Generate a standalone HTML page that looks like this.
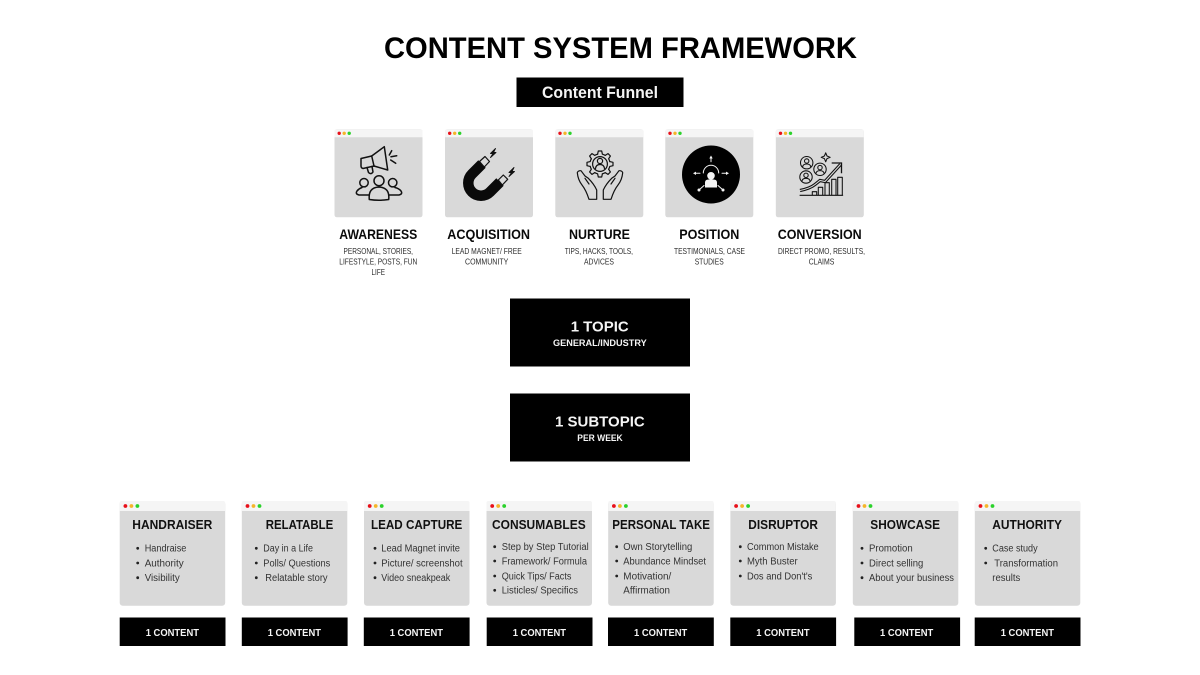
<!DOCTYPE html>
<html lang="en">
<head>
<meta charset="utf-8">
<title>Content System Framework</title>
<style>
html,body{margin:0;padding:0;background:#fff;width:1200px;height:675px;overflow:hidden}
svg{display:block;filter:blur(.3px)}
text{font-family:"Liberation Sans",sans-serif;white-space:pre}
.h{font-weight:700;font-size:14px;fill:#0a0a0a}
.s{font-size:8.5px;fill:#2b2b2b}
.c{font-weight:700;font-size:12.8px;fill:#111}
.b{font-size:10px;fill:#333}
.w{font-weight:700;fill:#f5f5f5}
.i{fill:none;stroke:#111;stroke-width:1.5;stroke-linecap:round;stroke-linejoin:round}
</style>
</head>
<body>
<svg xmlns="http://www.w3.org/2000/svg" width="1200" height="675" viewBox="0 0 1200 675">
<defs>
<g id="t">
<rect x="0" y="0" width="88" height="88" rx="2.5" fill="#d9d9d9"/>
<path d="M0,8V2a2,2 0 0 1 2,-2H86a2,2 0 0 1 2,2V8Z" fill="#f5f5f5"/>
<circle cx="4.7" cy="4" r="1.7" fill="#e8101a"/><circle cx="9.7" cy="4" r="1.7" fill="#f5b52a"/><circle cx="14.7" cy="4" r="1.7" fill="#2bd22b"/>
</g>
<g id="m">
<rect x="0" y="0" width="105.5" height="104.7" rx="3" fill="#d9d9d9"/>
<path d="M0,10V2a2,2 0 0 1 2,-2H103.5a2,2 0 0 1 2,2V10Z" fill="#f5f5f5"/>
<circle cx="5.7" cy="5" r="1.9" fill="#e8101a"/><circle cx="11.7" cy="5" r="1.9" fill="#f5b52a"/><circle cx="17.7" cy="5" r="1.9" fill="#2bd22b"/>
</g>
<path id="tooth" d="M-2.4,-9.8L-1.7,-13H1.7L2.4,-9.8A10,10 0 0 1 5.23,-8.63"/>
</defs>

<text x="384" y="58" font-size="30" font-weight="700" fill="#000" textLength="473" lengthAdjust="spacingAndGlyphs">CONTENT SYSTEM FRAMEWORK</text>
<rect x="516.5" y="77.5" width="167" height="29.5" fill="#000"/>
<text x="542" y="98" font-size="16.5" class="w" textLength="116" lengthAdjust="spacingAndGlyphs">Content Funnel</text>

<use href="#t" x="334.5" y="129.3"/><use href="#t" x="445" y="129.3"/><use href="#t" x="555.3" y="129.3"/><use href="#t" x="665.3" y="129.3"/><use href="#t" x="775.8" y="129.3"/>

<!-- megaphone + people -->
<g class="i">
<path d="M371.7,156L384.3,146.7L387.7,170L374,166"/>
<path d="M361,158.5L371.7,156L374,166L363,168.5Q361,168 361,166Z"/>
<path d="M367,167.5L368.5,172.5Q371,175 373,172L372,166.5"/>
<path d="M391.7,150.7L389.3,155M391,156.7L396.7,155.7M390.7,160L395.7,163.3"/>
<circle cx="379" cy="180.7" r="5"/><circle cx="364" cy="182.7" r="4.2"/><circle cx="392.7" cy="182.7" r="4.2"/>
<path d="M369.3,199.5Q368,187.5 379,187Q390,187.5 388.7,199.5Q379,201 369.3,199.5Z"/>
<path d="M369,195H359Q355,194 357,191Q359,188.5 362,187.5"/><path d="M389,195H399Q403,194 401,191Q399,188.5 395,187.5"/>
</g>
<!-- magnet -->
<path d="M482,164L472,174A12.7,12.7 0 0 0 490,192L500,182" fill="none" stroke="#0a0a0a" stroke-width="10.5"/>
<path d="M479.5,161.5L485,156.5L489.5,161.5L484.3,167ZM498.3,180L503.3,175L507.7,179.3L502.3,185Z" fill="#d9d9d9" stroke="#111" stroke-width="1.2" stroke-linejoin="round"/>
<path d="M495.5,148.5L490.5,153.5H493L490.5,157.5L496,152.5H493.5ZM514,167.5L509,172.5H511.5L509,176.5L514.5,171.5H512Z" fill="#111" stroke="#111" stroke-width=".9" stroke-linejoin="round"/>
<!-- nurture -->
<g class="i" style="stroke-width:1.2">
<g transform="translate(600,164)">
<use href="#tooth"/><use href="#tooth" transform="rotate(45)"/><use href="#tooth" transform="rotate(90)"/><use href="#tooth" transform="rotate(135)"/><use href="#tooth" transform="rotate(180)"/><use href="#tooth" transform="rotate(225)"/><use href="#tooth" transform="rotate(270)"/><use href="#tooth" transform="rotate(315)"/>
</g>
<circle cx="600" cy="164" r="7.4"/>
<circle cx="600" cy="161" r="2.6"/><path d="M595.5,168.5Q596,164.5 600,164.5Q604,164.5 604.5,168.5"/>
<path d="M577.3,172.7Q578,180 582,185Q586,190 589,199.3H596.7V190Q594,184 588.3,178.3L585,176L581,170.7Q578,170.5 577.3,172.7Z"/>
<path d="M585,178.3L589,184"/>
<path d="M622.7,172.7Q622,180 618,185Q614,190 611,199.3H603.3V190Q606,184 611.7,178.3L615,176L619,170.7Q622,170.5 622.7,172.7Z"/>
<path d="M615,178.3L611,184"/>
</g>
<!-- position -->
<circle cx="711" cy="174.5" r="29" fill="#000"/>
<g fill="#f4f4f4">
<circle cx="711" cy="175.8" r="3.8"/>
<path d="M705,187.5V182.5Q705,179.5 708.5,179.5H713.5Q717,179.5 717,182.5V187.5Z"/>
<circle cx="699" cy="190" r="1.5"/><circle cx="723" cy="190" r="1.5"/>
<path d="M711,155.5L709.3,158.5H712.7ZM693,173.3L696,171.6V175ZM729,173.3L726,171.6V175Z"/>
</g>
<g fill="none" stroke="#f4f4f4" stroke-width="1" stroke-linecap="round">
<path d="M703.3,173A7.7,7.7 0 0 1 718.7,173"/>
<path d="M711,158V161.7M696,173.3H700M722,173.3H726M704,185.5L699,190M718,185.5L723,190"/>
</g>
<!-- conversion -->
<g class="i" style="stroke-width:1.05">
<circle cx="806.7" cy="162.7" r="6.2"/><circle cx="806.7" cy="161" r="2.2"/><path d="M802.6,167Q803,164 806.7,164Q810.4,164 810.8,167"/>
<circle cx="820" cy="169.3" r="6.2"/><circle cx="820" cy="167.6" r="2.2"/><path d="M815.9,173.6Q816.3,170.6 820,170.6Q823.7,170.6 824.1,173.6"/>
<circle cx="806" cy="177" r="6.2"/><circle cx="806" cy="175.3" r="2.2"/><path d="M801.9,181.3Q802.3,178.3 806,178.3Q809.7,178.3 810.1,181.3"/>
<path d="M800,195.3H842.7"/>
<path d="M812.3,195V191.7H816.7V195M818.3,195V187.3H822.7V195M825,195V182.7H829.3V195M831.7,195V179.3H836V195M837.7,195V177.3H842.3V195"/>
<path d="M825.7,152.8L827,156L830.2,157.3L827,158.6L825.7,161.8L824.4,158.6L821.2,157.3L824.4,156Z"/>
</g>
<path d="M800,190.5Q810,188.5 815,184.5L820,180.5L825,181.5L840.5,164.5" fill="none" stroke="#111" stroke-width="3.2"/>
<path d="M800,190.5Q810,188.5 815,184.5L820,180.5L825,181.5L840.5,164.5" fill="none" stroke="#d9d9d9" stroke-width="1.1"/>
<path d="M831.7,163H841.5V173.3" fill="none" stroke="#111" stroke-width="1.3"/>

<text class="h" x="339.3" y="239" textLength="78" lengthAdjust="spacingAndGlyphs">AWARENESS</text>
<text class="h" x="447.3" y="239" textLength="82.7" lengthAdjust="spacingAndGlyphs">ACQUISITION</text>
<text class="h" x="569" y="239" textLength="61" lengthAdjust="spacingAndGlyphs">NURTURE</text>
<text class="h" x="679.3" y="239" textLength="60" lengthAdjust="spacingAndGlyphs">POSITION</text>
<text class="h" x="777.7" y="239" textLength="84" lengthAdjust="spacingAndGlyphs">CONVERSION</text>

<text class="s" x="343.5" y="254" textLength="69.5" lengthAdjust="spacingAndGlyphs">PERSONAL, STORIES,</text>
<text class="s" x="339.3" y="264.5" textLength="78" lengthAdjust="spacingAndGlyphs">LIFESTYLE, POSTS, FUN</text>
<text class="s" x="371.5" y="275" textLength="13.5" lengthAdjust="spacingAndGlyphs">LIFE</text>
<text class="s" x="451.7" y="254" textLength="70" lengthAdjust="spacingAndGlyphs">LEAD MAGNET/ FREE</text>
<text class="s" x="465" y="264.5" textLength="43.3" lengthAdjust="spacingAndGlyphs">COMMUNITY</text>
<text class="s" x="564.7" y="254" textLength="68.3" lengthAdjust="spacingAndGlyphs">TIPS, HACKS, TOOLS,</text>
<text class="s" x="584" y="264.5" textLength="30" lengthAdjust="spacingAndGlyphs">ADVICES</text>
<text class="s" x="674" y="254" textLength="71" lengthAdjust="spacingAndGlyphs">TESTIMONIALS, CASE</text>
<text class="s" x="694.7" y="264.5" textLength="29" lengthAdjust="spacingAndGlyphs">STUDIES</text>
<text class="s" x="778" y="254" textLength="87" lengthAdjust="spacingAndGlyphs">DIRECT PROMO, RESULTS,</text>
<text class="s" x="808.7" y="264.5" textLength="25.6" lengthAdjust="spacingAndGlyphs">CLAIMS</text>

<rect x="510" y="298.5" width="180" height="68" fill="#000"/>
<rect x="510" y="393.5" width="180" height="68" fill="#000"/>
<text class="w" x="570.7" y="331.7" font-size="15" textLength="58" lengthAdjust="spacingAndGlyphs">1 TOPIC</text>
<text class="w" x="553" y="346" font-size="9" textLength="93.7" lengthAdjust="spacingAndGlyphs">GENERAL/INDUSTRY</text>
<text class="w" x="555" y="426.7" font-size="15" textLength="89.7" lengthAdjust="spacingAndGlyphs">1 SUBTOPIC</text>
<text class="w" x="577.3" y="441" font-size="9" textLength="45.4" lengthAdjust="spacingAndGlyphs">PER WEEK</text>

<use href="#m" x="119.7" y="501"/><use href="#m" x="241.8" y="501"/><use href="#m" x="364" y="501"/><use href="#m" x="486.5" y="501"/><use href="#m" x="608.2" y="501"/><use href="#m" x="730.4" y="501"/><use href="#m" x="852.8" y="501"/><use href="#m" x="974.8" y="501"/>

<g fill="#000">
<rect x="119.7" y="617.5" width="105.8" height="28.5"/><rect x="241.8" y="617.5" width="105.8" height="28.5"/><rect x="363.8" y="617.5" width="105.8" height="28.5"/><rect x="486.7" y="617.5" width="105.8" height="28.5"/><rect x="608" y="617.5" width="105.8" height="28.5"/><rect x="730.3" y="617.5" width="105.8" height="28.5"/><rect x="854.3" y="617.5" width="105.8" height="28.5"/><rect x="974.7" y="617.5" width="105.8" height="28.5"/>
</g>
<g class="w" font-size="10">
<text x="145.7" y="636" textLength="53.3" lengthAdjust="spacingAndGlyphs">1 CONTENT</text>
<text x="267.7" y="636" textLength="53.3" lengthAdjust="spacingAndGlyphs">1 CONTENT</text>
<text x="389.7" y="636" textLength="53.3" lengthAdjust="spacingAndGlyphs">1 CONTENT</text>
<text x="512.7" y="636" textLength="53.3" lengthAdjust="spacingAndGlyphs">1 CONTENT</text>
<text x="634" y="636" textLength="53.3" lengthAdjust="spacingAndGlyphs">1 CONTENT</text>
<text x="756.3" y="636" textLength="53.3" lengthAdjust="spacingAndGlyphs">1 CONTENT</text>
<text x="880" y="636" textLength="53.3" lengthAdjust="spacingAndGlyphs">1 CONTENT</text>
<text x="1000.7" y="636" textLength="53.3" lengthAdjust="spacingAndGlyphs">1 CONTENT</text>
</g>

<text class="c" x="132.3" y="529" textLength="80" lengthAdjust="spacingAndGlyphs">HANDRAISER</text>
<text class="c" x="265.7" y="529" textLength="67.6" lengthAdjust="spacingAndGlyphs">RELATABLE</text>
<text class="c" x="371" y="529" textLength="91.3" lengthAdjust="spacingAndGlyphs">LEAD CAPTURE</text>
<text class="c" x="492" y="529" textLength="93.7" lengthAdjust="spacingAndGlyphs">CONSUMABLES</text>
<text class="c" x="612.3" y="529" textLength="97.7" lengthAdjust="spacingAndGlyphs">PERSONAL TAKE</text>
<text class="c" x="748.3" y="529" textLength="69.7" lengthAdjust="spacingAndGlyphs">DISRUPTOR</text>
<text class="c" x="870.3" y="529" textLength="69.7" lengthAdjust="spacingAndGlyphs">SHOWCASE</text>
<text class="c" x="992.3" y="529" textLength="69.7" lengthAdjust="spacingAndGlyphs">AUTHORITY</text>

<g fill="#222">
<circle cx="137.7" cy="548.3" r="1.4"/><circle cx="137.7" cy="563" r="1.4"/><circle cx="137.7" cy="577.7" r="1.4"/>
<circle cx="256.3" cy="548.3" r="1.4"/><circle cx="256.3" cy="563" r="1.4"/><circle cx="256.3" cy="577.7" r="1.4"/>
<circle cx="375" cy="548.3" r="1.4"/><circle cx="375" cy="563" r="1.4"/><circle cx="375" cy="577.7" r="1.4"/>
<circle cx="494.7" cy="546.7" r="1.4"/><circle cx="494.7" cy="561" r="1.4"/><circle cx="494.7" cy="576" r="1.4"/><circle cx="494.7" cy="590.3" r="1.4"/>
<circle cx="616.7" cy="546.7" r="1.4"/><circle cx="616.7" cy="561" r="1.4"/><circle cx="616.7" cy="576" r="1.4"/>
<circle cx="740.3" cy="546.7" r="1.4"/><circle cx="740.3" cy="561" r="1.4"/><circle cx="740.3" cy="576" r="1.4"/>
<circle cx="862" cy="548.3" r="1.4"/><circle cx="862" cy="563" r="1.4"/><circle cx="862" cy="577.7" r="1.4"/>
<circle cx="985.7" cy="548.3" r="1.4"/><circle cx="985.7" cy="563" r="1.4"/>
</g>

<text class="b" x="144.7" y="551.5" textLength="41.7" lengthAdjust="spacingAndGlyphs">Handraise</text>
<text class="b" x="144.7" y="566.3" textLength="39" lengthAdjust="spacingAndGlyphs">Authority</text>
<text class="b" x="144.7" y="581" textLength="35" lengthAdjust="spacingAndGlyphs">Visibility</text>
<text class="b" x="263.3" y="551.5" textLength="49.7" lengthAdjust="spacingAndGlyphs">Day in a Life</text>
<text class="b" x="263.3" y="566.3" textLength="67" lengthAdjust="spacingAndGlyphs">Polls/ Questions</text>
<text class="b" x="265.3" y="581" textLength="62.3" lengthAdjust="spacingAndGlyphs">Relatable story</text>
<text class="b" x="381.3" y="551.5" textLength="78.7" lengthAdjust="spacingAndGlyphs">Lead Magnet invite</text>
<text class="b" x="381.3" y="566.3" textLength="81.3" lengthAdjust="spacingAndGlyphs">Picture/ screenshot</text>
<text class="b" x="381.3" y="581" textLength="69" lengthAdjust="spacingAndGlyphs">Video sneakpeak</text>
<text class="b" x="501.7" y="550" textLength="87" lengthAdjust="spacingAndGlyphs">Step by Step Tutorial</text>
<text class="b" x="501.7" y="564.5" textLength="85.3" lengthAdjust="spacingAndGlyphs">Framework/ Formula</text>
<text class="b" x="501.7" y="579.3" textLength="69.7" lengthAdjust="spacingAndGlyphs">Quick Tips/ Facts</text>
<text class="b" x="501.7" y="593.7" textLength="76.3" lengthAdjust="spacingAndGlyphs">Listicles/ Specifics</text>
<text class="b" x="623.3" y="550" textLength="69" lengthAdjust="spacingAndGlyphs">Own Storytelling</text>
<text class="b" x="623.3" y="564.5" textLength="82.7" lengthAdjust="spacingAndGlyphs">Abundance Mindset</text>
<text class="b" x="623.3" y="579.3" textLength="48" lengthAdjust="spacingAndGlyphs">Motivation/</text>
<text class="b" x="623.3" y="593.7" textLength="46.7" lengthAdjust="spacingAndGlyphs">Affirmation</text>
<text class="b" x="747" y="550" textLength="71.7" lengthAdjust="spacingAndGlyphs">Common Mistake</text>
<text class="b" x="747" y="564.5" textLength="50.7" lengthAdjust="spacingAndGlyphs">Myth Buster</text>
<text class="b" x="747" y="579.3" textLength="65.3" lengthAdjust="spacingAndGlyphs">Dos and Don't's</text>
<text class="b" x="869" y="551.5" textLength="43.7" lengthAdjust="spacingAndGlyphs">Promotion</text>
<text class="b" x="869" y="566.3" textLength="54.3" lengthAdjust="spacingAndGlyphs">Direct selling</text>
<text class="b" x="869" y="581" textLength="85" lengthAdjust="spacingAndGlyphs">About your business</text>
<text class="b" x="992.3" y="551.5" textLength="45.3" lengthAdjust="spacingAndGlyphs">Case study</text>
<text class="b" x="994.3" y="566.3" textLength="63.7" lengthAdjust="spacingAndGlyphs">Transformation</text>
<text class="b" x="992.3" y="581" textLength="28" lengthAdjust="spacingAndGlyphs">results</text>
</svg>
</body>
</html>
